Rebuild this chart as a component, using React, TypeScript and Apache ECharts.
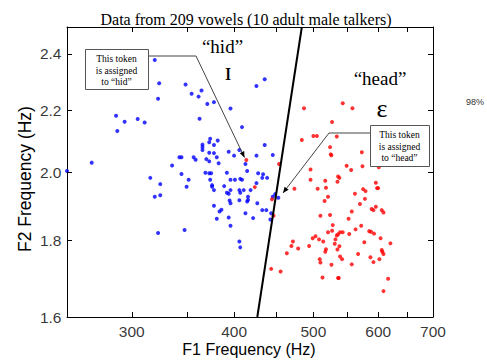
import { useEffect, useRef } from 'react';
import * as echarts from 'echarts';

const X_MIN = 250;
const X_MAX = 700;
const Y_MIN = 1.6;
const Y_MAX = 2.5;
const X_TICKS = [300, 350, 400, 450, 500, 550, 600, 650];
const X_LABELS = [300, 400, 500, 600, 700];
const Y_TICKS = [1.8, 2.0, 2.2, 2.4];
const Y_LABELS = [1.6, 1.8, 2.0, 2.2, 2.4];

// tokens classified as "hid" (blue)
const HID_F1 = [320, 324, 323, 287, 294, 305, 311, 288, 268, 250, 336, 343, 345, 349, 355, 365, 362, 371, 378, 426,
  436, 396, 363, 409, 374, 382, 373, 366, 366, 366, 378, 436, 378, 373, 394, 400, 406, 413, 426, 446,
  357, 359, 370, 373, 381, 383, 316, 345, 352, 325, 350, 320, 325, 369, 373, 375, 392, 415, 428, 434,
  433, 439, 374, 376, 376, 378, 389, 396, 401, 407, 409, 406, 411, 396, 392, 394, 407, 419, 416, 416,
  415, 406, 395, 396, 426, 378, 384, 386, 381, 394, 396, 413, 422, 427, 433, 438, 444, 443, 449, 446,
  453, 323, 348, 406, 407];
const HID_F2 = [2.376, 2.293, 2.239, 2.181, 2.161, 2.170, 2.158, 2.130, 2.029, 2.003, 2.020, 2.046, 2.046, 2.288, 2.256, 2.267, 2.246, 2.221, 2.227, 2.283,
  2.307, 2.205, 2.171, 2.143, 2.105, 2.099, 2.094, 2.086, 2.078, 2.069, 2.085, 2.085, 2.059, 2.060, 2.063, 2.051, 2.069, 2.025, 2.051, 2.053,
  2.046, 2.038, 2.040, 2.033, 2.046, 2.027, 1.982, 1.994, 1.976, 1.963, 1.955, 1.925, 1.930, 1.998, 1.996, 1.996, 1.998, 2.003, 1.996, 1.993,
  1.982, 1.982, 1.976, 1.960, 1.955, 1.945, 1.957, 1.976, 1.976, 1.979, 1.976, 1.945, 1.945, 1.945, 1.937, 1.934, 1.937, 1.945, 1.925, 1.916,
  1.911, 1.915, 1.914, 1.906, 1.966, 1.899, 1.882, 1.887, 1.861, 1.865, 1.841, 1.877, 1.863, 1.906, 1.886, 1.886, 1.877, 1.859, 1.933, 1.925,
  1.922, 1.821, 1.829, 1.797, 1.781];

// "head" tokens (red)
const HEAD_F1 = [414, 424, 445, 454, 487, 543, 558, 527, 500, 505, 484, 534, 524, 525, 526, 573, 496, 549, 556, 574,
  601, 536, 538, 496, 517, 535, 506, 518, 474, 596, 598, 600, 575, 579, 562, 521, 578, 447, 516, 570,
  596, 589, 592, 606, 609, 557, 510, 524, 552, 528, 572, 563, 527, 521, 539, 543, 536, 534, 553, 585,
  588, 593, 503, 499, 508, 514, 532, 531, 538, 535, 518, 517, 472, 470, 479, 464, 494, 577, 604, 621,
  606, 607, 609, 567, 539, 542, 587, 602, 592, 509, 510, 526, 557, 444, 456, 513, 536, 537, 617, 609];
const HEAD_F2 = [2.037, 1.954, 1.918, 2.025, 2.206, 2.223, 2.206, 2.160, 2.114, 2.114, 2.101, 2.112, 2.078, 2.055, 2.052, 2.062, 2.008, 2.019, 2.006, 2.018,
  2.015, 1.986, 1.982, 1.976, 1.973, 1.970, 1.949, 1.952, 1.949, 1.967, 1.951, 1.951, 1.948, 1.942, 1.934, 1.925, 1.919, 1.870, 1.913, 1.904,
  1.896, 1.889, 1.886, 1.886, 1.879, 1.882, 1.870, 1.872, 1.861, 1.843, 1.841, 1.831, 1.827, 1.823, 1.823, 1.823, 1.817, 1.814, 1.818, 1.826,
  1.824, 1.819, 1.812, 1.806, 1.803, 1.797, 1.803, 1.791, 1.784, 1.775, 1.776, 1.769, 1.797, 1.785, 1.778, 1.765, 1.785, 1.795, 1.806, 1.792,
  1.774, 1.769, 1.763, 1.763, 1.756, 1.749, 1.754, 1.749, 1.741, 1.749, 1.740, 1.734, 1.735, 1.723, 1.716, 1.700, 1.699, 1.699, 1.697, 1.665];

const BOUNDARY_F1 = [427, 484];
const BOUNDARY_F2 = [1.6, 2.5];

const SANS = "'Liberation Sans', Arial, sans-serif";
const SERIF = "'Liberation Serif', 'Times New Roman', serif";

function txt(x: number, y: number, text: string, size: number, family: string, align = 'center', extra: any = {}) {
  return {
    type: 'text',
    x,
    y,
    z: 20,
    ...extra,
    style: {
      text,
      fontSize: size,
      fontFamily: family,
      fill: extra.fill || '#000',
      align,
      verticalAlign: 'middle',
      textAlign: align,
      textVerticalAlign: 'middle',
    },
  };
}

export default function App() {
  const ref = useRef<HTMLDivElement>(null);
  useEffect(() => {
    if (!ref.current) return;
    document.body.style.margin = '0';
    const chart = echarts.init(ref.current, undefined, { renderer: 'svg' });
    const logAxis = (min: number, max: number, position: string) => ({
      type: 'log',
      logBase: 10,
      min,
      max,
      position,
      axisLine: { show: true, lineStyle: { color: '#000', width: 1 } },
      axisTick: { show: false },
      axisLabel: { show: false },
      splitLine: { show: false },
      minorTick: { show: false },
    });
    const tickStyle = { stroke: '#000', lineWidth: 1 };
    const crisp = (v: number) => Math.round(v) + 0.5;
    chart.setOption({
      animation: false,
      backgroundColor: '#fff',
      grid: { left: 67, right: 54, top: 27, bottom: 43 },
      xAxis: [logAxis(X_MIN, X_MAX, 'bottom'), logAxis(X_MIN, X_MAX, 'top')],
      yAxis: [logAxis(Y_MIN, Y_MAX, 'left'), logAxis(Y_MIN, Y_MAX, 'right')],
      series: [
        {
          type: 'scatter',
          name: 'hid',
          data: HID_F1.map((v, i) => [v, HID_F2[i]]),
          symbolSize: 4,
          itemStyle: { color: '#0000ff' },
          z: 2,
        },
        {
          type: 'scatter',
          name: 'head',
          data: HEAD_F1.map((v, i) => [v, HEAD_F2[i]]),
          symbolSize: 4,
          itemStyle: { color: '#ff0000' },
          z: 2,
        },
        {
          type: 'line',
          data: BOUNDARY_F1.map((v, i) => [v, BOUNDARY_F2[i]]),
          symbol: 'none',
          lineStyle: { color: '#000', width: 2 },
          clip: false,
          z: 3,
        },
        {
          type: 'custom',
          data: X_TICKS.map((v) => [v, Y_MIN]),
          clip: false,
          z: 4,
          renderItem: (_p: any, api: any) => {
            const b = api.coord([api.value(0), Y_MIN]);
            const t = api.coord([api.value(0), Y_MAX]);
            const x = crisp(b[0]);
            return {
              type: 'group',
              children: [
                { type: 'line', shape: { x1: x, y1: b[1], x2: x, y2: b[1] - 5 }, style: tickStyle },
                { type: 'line', shape: { x1: x, y1: t[1], x2: x, y2: t[1] + 5 }, style: tickStyle },
              ],
            };
          },
        },
        {
          type: 'custom',
          data: Y_TICKS.map((v) => [X_MIN, v]),
          clip: false,
          z: 4,
          renderItem: (_p: any, api: any) => {
            const l = api.coord([X_MIN, api.value(1)]);
            const r = api.coord([X_MAX, api.value(1)]);
            const y = crisp(l[1]);
            return {
              type: 'group',
              children: [
                { type: 'line', shape: { x1: l[0], y1: y, x2: l[0] + 5, y2: y }, style: tickStyle },
                { type: 'line', shape: { x1: r[0], y1: y, x2: r[0] - 5, y2: y }, style: tickStyle },
              ],
            };
          },
        },
        {
          type: 'scatter',
          data: X_LABELS.map((v) => [v, Y_MIN]),
          symbolSize: 1,
          clip: false,
          itemStyle: { color: 'transparent' },
          label: {
            show: true,
            position: 'bottom',
            distance: 6,
            formatter: (p: any) => String(p.value[0]),
            fontSize: 15.5,
            fontFamily: SANS,
            color: '#000',
          },
          silent: true,
        },
        {
          type: 'scatter',
          data: Y_LABELS.map((v) => [X_MIN, v]),
          symbolSize: 1,
          clip: false,
          itemStyle: { color: 'transparent' },
          label: {
            show: true,
            position: 'left',
            distance: 5,
            formatter: (p: any) => Number(p.value[1]).toFixed(1),
            fontSize: 15.5,
            fontFamily: SANS,
            color: '#000',
          },
          silent: true,
        },
      ],
      graphic: [
        txt(246, 19, 'Data from 209 vowels (10 adult male talkers)', 16, SERIF),
        txt(249, 349, 'F1 Frequency (Hz)', 16, SANS),
        txt(25, 179, 'F2 Frequency (Hz)', 17.5, SANS, 'center', { rotation: Math.PI / 2 }),
        txt(222.5, 46, '\u201chid\u201d', 19, SERIF),
        txt(228, 71, '\u026a', 26, SERIF),
        txt(380, 78, '\u201chead\u201d', 19, SERIF),
        txt(382, 108, '\u025b', 26, SERIF),
        txt(466, 102, '98%', 9, SANS, 'left', { fill: '#333' }),
        {
          type: 'rect',
          z: 15,
          shape: { x: 85.5, y: 49.5, width: 63, height: 40 },
          style: { fill: '#fff', stroke: '#555', lineWidth: 1 },
        },
        txt(116.5, 59, 'This token', 9.5, SERIF),
        txt(116.5, 70.7, 'is assigned', 9.5, SERIF),
        txt(116.5, 82.3, 'to \u201chid\u201d', 9.5, SERIF),
        {
          type: 'polyline',
          z: 15,
          shape: { points: [[148.5, 56], [196, 56], [244.5, 157.5]] },
          style: { stroke: '#444', lineWidth: 1, fill: 'none' },
        },
        {
          type: 'polygon',
          z: 15,
          shape: { points: [[244.5, 157.5], [239.7, 153.2], [244.2, 151.0]] },
          style: { fill: '#000' },
        },
        {
          type: 'rect',
          z: 15,
          shape: { x: 370.5, y: 125.5, width: 59, height: 41 },
          style: { fill: '#fff', stroke: '#555', lineWidth: 1 },
        },
        txt(399.5, 135, 'This token', 9.5, SERIF),
        txt(399.5, 147.3, 'is assigned', 9.5, SERIF),
        txt(399.5, 158.3, 'to \u201chead\u201d', 9.5, SERIF),
        {
          type: 'polyline',
          z: 15,
          shape: { points: [[370, 133], [329, 133], [283, 193]] },
          style: { stroke: '#444', lineWidth: 1, fill: 'none' },
        },
        {
          type: 'polygon',
          z: 15,
          shape: { points: [[283, 193], [284.6, 186.7], [288.6, 189.7]] },
          style: { fill: '#000' },
        },
      ],
    });
    return () => chart.dispose();
  }, []);
  return <div ref={ref} style={{ width: 487, height: 360 }} />;
}
